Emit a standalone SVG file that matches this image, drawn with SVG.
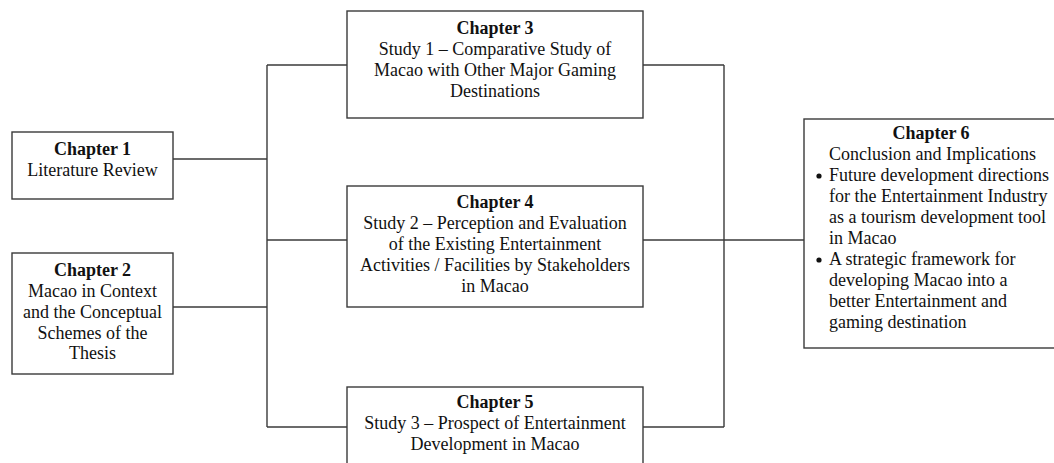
<svg xmlns="http://www.w3.org/2000/svg" width="1054" height="463" viewBox="0 0 1054 463">
  <style>
    .box { fill: #ffffff; stroke: #3a3a3a; stroke-width: 1.4; }
    .wire { fill: none; stroke: #3a3a3a; stroke-width: 1.4; }
    text { font-family: "Liberation Serif", "Times New Roman", serif; font-size: 18px; fill: #111; }
    .c { text-anchor: middle; }
    .h { font-weight: bold; }
  </style>
  <rect width="1054" height="463" fill="#ffffff"/>

  <!-- connectors -->
  <g id="connectors">
    <!-- left trunk: chapters 1 and 2 into the three studies -->
    <line class="wire" x1="173" y1="159" x2="267" y2="159"/>
    <line class="wire" x1="173" y1="307" x2="267" y2="307"/>
    <line class="wire" x1="267" y1="65" x2="267" y2="427"/>
    <line class="wire" x1="267" y1="65" x2="347" y2="65"/>
    <line class="wire" x1="267" y1="240" x2="347" y2="240"/>
    <line class="wire" x1="267" y1="427" x2="347" y2="427"/>
    <!-- right trunk: studies into chapter 6 -->
    <line class="wire" x1="643" y1="65" x2="724" y2="65"/>
    <line class="wire" x1="643" y1="427" x2="724" y2="427"/>
    <line class="wire" x1="724" y1="65" x2="724" y2="427"/>
    <line class="wire" x1="643" y1="240" x2="804" y2="240"/>
  </g>

  <g id="chapter1">
    <rect class="box" x="12" y="132" width="161" height="67"/>
    <text class="c h" x="92.5" y="155">Chapter 1</text>
    <text class="c" x="92.5" y="176">Literature Review</text>
  </g>

  <g id="chapter2">
    <rect class="box" x="12" y="253" width="161" height="121"/>
    <text class="c h" x="92.5" y="276">Chapter 2</text>
    <text class="c" x="92.5" y="297">Macao in Context</text>
    <text class="c" x="92.5" y="318">and the Conceptual</text>
    <text class="c" x="92.5" y="339">Schemes of the</text>
    <text class="c" x="92.5" y="359">Thesis</text>
  </g>

  <g id="chapter3">
    <rect class="box" x="347" y="11" width="296" height="107"/>
    <text class="c h" x="495" y="34">Chapter 3</text>
    <text class="c" x="495" y="55">Study 1 – Comparative Study of</text>
    <text class="c" x="495" y="76">Macao with Other Major Gaming</text>
    <text class="c" x="495" y="97">Destinations</text>
  </g>

  <g id="chapter4">
    <rect class="box" x="347" y="186" width="296" height="121"/>
    <text class="c h" x="495" y="208">Chapter 4</text>
    <text class="c" x="495" y="229">Study 2 – Perception and Evaluation</text>
    <text class="c" x="495" y="250">of the Existing Entertainment</text>
    <text class="c" x="495" y="271">Activities / Facilities by Stakeholders</text>
    <text class="c" x="495" y="292">in Macao</text>
  </g>

  <g id="chapter5">
    <rect class="box" x="347" y="387" width="296" height="90"/>
    <text class="c h" x="495" y="408">Chapter 5</text>
    <text class="c" x="495" y="429">Study 3 – Prospect of Entertainment</text>
    <text class="c" x="495" y="450">Development in Macao</text>
  </g>

  <g id="chapter6">
    <rect class="box" x="804" y="119" width="260" height="229"/>
    <text class="c h" x="931" y="139">Chapter 6</text>
    <text x="829" y="160">Conclusion and Implications</text>
    <circle cx="819" cy="176" r="2.6" fill="#111"/>
    <text x="829" y="181">Future development directions</text>
    <text x="829" y="202">for the Entertainment Industry</text>
    <text x="829" y="223">as a tourism  development tool</text>
    <text x="829" y="244">in Macao</text>
    <circle cx="819" cy="260" r="2.6" fill="#111"/>
    <text x="829" y="265">A strategic framework for</text>
    <text x="829" y="286">developing Macao into a</text>
    <text x="829" y="307">better Entertainment and</text>
    <text x="829" y="328">gaming destination</text>
  </g>
</svg>
